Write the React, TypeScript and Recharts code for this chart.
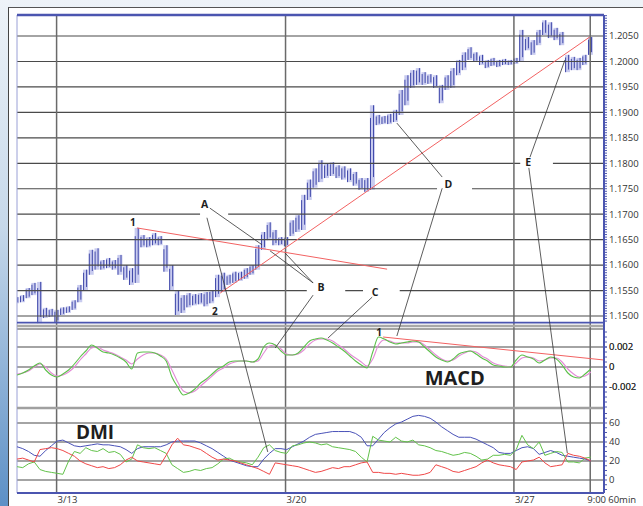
import React from "react";
import {
  ComposedChart,
  Bar,
  Line,
  XAxis,
  YAxis,
  ReferenceLine,
  ReferenceDot,
} from "recharts";

// 60-min bars, sampled every 3 bars
const HIGH = [
  1.1537, 1.1541, 1.1555, 1.1565, 1.1567, 1.1516, 1.1514, 1.1512, 1.1517, 1.1519,
  1.1531, 1.1561, 1.1591, 1.163, 1.1633, 1.161, 1.1614, 1.161, 1.162, 1.16,
  1.1594, 1.1673, 1.1659, 1.1655, 1.1663, 1.1657, 1.1639, 1.16, 1.1551, 1.1541,
  1.1545, 1.1543, 1.1545, 1.1547, 1.1551, 1.1581, 1.1585, 1.1581, 1.1587, 1.1587,
  1.1594, 1.16, 1.1639, 1.1665, 1.1684, 1.1669, 1.1655, 1.1655, 1.1688, 1.1698,
  1.1738, 1.1768, 1.179, 1.1806, 1.18, 1.1802, 1.1796, 1.1794, 1.179, 1.1783,
  1.1771, 1.1771, 1.1914, 1.1895, 1.1893, 1.1897, 1.1905, 1.1944, 1.1973, 1.1983,
  1.1987, 1.1979, 1.1975, 1.1973, 1.1954, 1.1973, 1.1987, 1.2003, 1.2018, 1.2028,
  1.2018, 1.2013, 1.2003, 1.2007, 1.2003, 1.2005, 1.2003, 1.2007, 1.2062, 1.2048,
  1.2042, 1.2062, 1.2081, 1.2077, 1.2066, 1.2058, 1.2013, 1.2009, 1.2007, 1.2013,
  1.2048,
];
const LOW = [
  1.1525, 1.1527, 1.1535, 1.1541, 1.1486, 1.1496, 1.1498, 1.1488, 1.1502, 1.1506,
  1.1512, 1.1527, 1.1551, 1.1581, 1.1591, 1.1591, 1.1594, 1.1591, 1.1581, 1.1571,
  1.1561, 1.1565, 1.1635, 1.1635, 1.1639, 1.1639, 1.1587, 1.1551, 1.1502, 1.1506,
  1.1517, 1.1521, 1.1523, 1.1519, 1.1525, 1.1537, 1.1547, 1.1561, 1.1565, 1.1569,
  1.1573, 1.1581, 1.1591, 1.163, 1.1649, 1.1639, 1.1639, 1.1637, 1.1657, 1.1665,
  1.1669, 1.1728, 1.1752, 1.1763, 1.1771, 1.1775, 1.1771, 1.1768, 1.1763, 1.1756,
  1.1748, 1.1744, 1.1748, 1.1875, 1.1877, 1.1877, 1.1881, 1.1895, 1.1914, 1.1948,
  1.1954, 1.1954, 1.1956, 1.1948, 1.1918, 1.1944, 1.1948, 1.1973, 1.1983, 1.2003,
  1.1999, 1.1993, 1.1987, 1.1991, 1.1989, 1.1993, 1.1993, 1.1995, 1.1999, 1.2022,
  1.2013, 1.2032, 1.2052, 1.2046, 1.2042, 1.2032, 1.1979, 1.1983, 1.1983, 1.1993,
  1.2013,
];
const MACD = [
  -0.0008, -0.0006, -0.0003, 0.0001, 0.0004, -0.0003, -0.0008, -0.001, -0.0007, -0.0003,
  0.0003, 0.001, 0.0016, 0.0022, 0.0019, 0.0015, 0.0014, 0.0012, 0.0009, 0.0005,
  -0.0002, 0.0014, 0.0015, 0.0015, 0.0014, 0.0011, 0.0006, -0.001, -0.002, -0.0028,
  -0.0026, -0.0022, -0.0016, -0.0012, -0.0007, -0.0002, 0.0001, 0.0005, 0.0006, 0.0006,
  0.0006, 0.0005, 0.0008, 0.002, 0.0024, 0.0022, 0.0016, 0.0012, 0.0012, 0.0014,
  0.002, 0.0026, 0.0028, 0.0029, 0.0027, 0.0024, 0.002, 0.0016, 0.0011, 0.0006,
  0.0002, -0.0001, 0.0015, 0.003, 0.0028, 0.0025, 0.0023, 0.0024, 0.0025, 0.0026,
  0.0025, 0.002, 0.0015, 0.001, 0.0007, 0.0005, 0.0008, 0.0013, 0.0015, 0.0016,
  0.0013, 0.0009, 0.0006, 0.0002, 0.0001, 0, 0, 0.0007, 0.0012, 0.001,
  0.0008, 0.0004, 0.0007, 0.001, 0.0008, 0.0002, -0.0006, -0.001, -0.0011, -0.0007,
  -0.0002,
];
const SIGNAL = [
  -0.0007, -0.0006, -0.0004, 0, 0.0003, 0, -0.0006, -0.0009, -0.0008, -0.0005,
  0, 0.0007, 0.0013, 0.0019, 0.002, 0.0017, 0.0015, 0.0013, 0.001, 0.0007,
  0.0003, 0.0008, 0.0012, 0.0014, 0.0014, 0.0012, 0.0008, -0.0003, -0.0015, -0.0024,
  -0.0026, -0.0024, -0.0019, -0.0014, -0.0009, -0.0004, -0.0001, 0.0003, 0.0005, 0.0006,
  0.0006, 0.0005, 0.0006, 0.0014, 0.0021, 0.0022, 0.0018, 0.0013, 0.0012, 0.0013,
  0.0017, 0.0023, 0.0027, 0.0028, 0.0028, 0.0026, 0.0022, 0.0018, 0.0013, 0.0009,
  0.0005, 0.0001, 0.0008, 0.0022, 0.0027, 0.0026, 0.0024, 0.0024, 0.0024, 0.0025,
  0.0025, 0.0022, 0.0017, 0.0012, 0.0008, 0.0006, 0.0007, 0.0011, 0.0014, 0.0016,
  0.0015, 0.0011, 0.0008, 0.0004, 0.0002, 0.0001, 0, 0.0004, 0.0009, 0.001,
  0.0009, 0.0006, 0.0007, 0.0009, 0.0009, 0.0005, -0.0002, -0.0007, -0.001, -0.0009,
  -0.0005,
];
const ADX = [
  35, 33, 30, 26, 25, 31, 36, 41, 42, 39,
  36, 35, 36, 37, 38, 37, 37, 36, 35, 32,
  28, 33, 35, 35, 35, 35, 37, 40, 41, 41,
  41, 41, 39, 36, 33, 29, 25, 21, 19, 17,
  15, 14, 14, 22, 28, 33, 33, 32, 35, 38,
  41, 45, 48, 49, 50, 51, 51, 51, 51, 49,
  45, 36, 36, 43, 50, 55, 59, 61, 64, 67,
  68, 67, 65, 61, 56, 52, 48, 45, 45, 45,
  43, 40, 37, 34, 29, 28, 28, 31, 34, 35,
  33, 27, 29, 31, 29, 26, 25, 24, 23, 22,
  20,
];
const PDI = [
  14, 13, 17, 19, 11, 9, 8, 7, 6, 20,
  30, 28, 34, 31, 30, 33, 29, 30, 27, 19,
  22, 37, 34, 33, 34, 31, 28, 16, 12, 8,
  9, 11, 10, 12, 13, 17, 22, 23, 20, 19,
  18, 16, 24, 34, 37, 31, 29, 28, 36, 37,
  39, 40, 39, 37, 38, 35, 34, 33, 32, 30,
  24, 19, 46, 42, 41, 40, 45, 41, 40, 42,
  37, 36, 34, 31, 30, 28, 26, 27, 29, 28,
  25, 21, 22, 26, 26, 27, 26, 32, 47, 37,
  33, 40, 26, 28, 30, 29, 19, 19, 18, 23,
  24,
];
const MDI = [
  22, 23, 21, 19, 32, 33, 34, 33, 31, 28,
  25, 20, 17, 15, 13, 14, 12, 13, 16, 21,
  24, 20, 19, 18, 17, 16, 26, 37, 44, 37,
  36, 34, 32, 28, 24, 21, 22, 21, 20, 18,
  16, 14, 12, 9, 6, 18, 17, 16, 15, 14,
  12, 10, 8, 9, 11, 13, 12, 14, 14, 16,
  18, 19, 8, 8, 7, 7, 6, 7, 6, 5,
  5, 6, 8, 16, 14, 12, 9, 8, 10, 12,
  14, 18, 21, 18, 16, 15, 14, 11, 19, 20,
  21, 24, 18, 14, 15, 16, 28, 26, 25, 23,
  20,
];

const X_TICKS = [6.9, 46.8, 86.6, 99.9];
const X_LABELS = ["3/13", "3/20", "3/27", "9:00"];
const PRICE_GRID = [1.15, 1.155, 1.16, 1.165, 1.17, 1.175, 1.18, 1.185, 1.19, 1.195, 1.2, 1.205];
const MACD_GRID = [0.0038, 0.002, 0, -0.002];
const MACD_LABELS = [0.002, 0, -0.002];
const DMI_GRID = [60, 40, 20, 0];

// the three panes share one plot; each axis domain places its pane
const X_DOMAIN: [number, number] = [0, 102.3];
const PRICE_DOMAIN: [number, number] = [1.11523, 1.20913];
const MACD_DOMAIN: [number, number] = [-0.0126, 0.0352];
const DMI_DOMAIN: [number, number] = [-13.7, 489.5];
const DOMAINS: Record<string, [number, number]> = {
  price: PRICE_DOMAIN,
  macd: MACD_DOMAIN,
  dmi: DMI_DOMAIN,
};
const toPrice = (v: number, pane: string) => {
  const [a, b] = DOMAINS[pane];
  return PRICE_DOMAIN[0] + ((v - a) / (b - a)) * (PRICE_DOMAIN[1] - PRICE_DOMAIN[0]);
};

// annotations
const TRENDS: [number, number, number, number, string][] = [
  [20.9, 1.1673, 64.5, 1.1592, "price"],
  [35.4, 1.1545, 99.8, 1.2048, "price"],
  [63.8, 0.003, 102.3, 0.0007, "macd"],
];
type P = [number, number, string];
const LEADERS: [P, P][] = [
  [[33.6, 1.1712, "price"], [42.7, 1.164, "price"]],
  [[33.1, 1.1693, "price"], [43.7, 29.5, "dmi"]],
  [[51.6, 1.1565, "price"], [44.1, 1.1628, "price"]],
  [[51.6, 1.1565, "price"], [46.7, 1.1624, "price"]],
  [[51.6, 1.1541, "price"], [45.0, 0.0019, "macd"]],
  [[61.9, 1.1537, "price"], [54.2, 0.0029, "macd"]],
  [[74.1, 1.1773, "price"], [66.2, 1.1879, "price"]],
  [[74.1, 1.1751, "price"], [66.2, 0.0031, "macd"]],
  [[89.4, 1.1812, "price"], [95.5, 1.2003, "price"]],
  [[89.2, 1.1791, "price"], [95.9, 28.4, "dmi"]],
];
const GAPS: [number, number, number][] = [
  [1.17, 31.9, 36.8],
  [1.155, 50.5, 57.2],
  [1.155, 60.3, 66.7],
  [1.175, 73.2, 79.3],
  [1.18, 87.7, 93.4],
];
const LABELS: { text: string; t: number; v: number; pane: string; size: number }[] = [
  { text: "A", t: 32.7, v: 1.1721, pane: "price", size: 10.5 },
  { text: "B", t: 53.0, v: 1.1557, pane: "price", size: 10.5 },
  { text: "C", t: 62.4, v: 1.1548, pane: "price", size: 10.5 },
  { text: "D", t: 75.2, v: 1.176, pane: "price", size: 10.5 },
  { text: "E", t: 89.1, v: 1.1802, pane: "price", size: 10.5 },
  { text: "1", t: 20.2, v: 1.1685, pane: "price", size: 10 },
  { text: "2", t: 34.5, v: 1.151, pane: "price", size: 10 },
  { text: "1", t: 63.1, v: 0.0035, pane: "macd", size: 10 },
  { text: "MACD", t: 76.3, v: -0.001, pane: "macd", size: 20 },
  { text: "DMI", t: 13.6, v: 50, pane: "dmi", size: 19 },
];

const FONT = "'Open Sans', sans-serif";
const AXIS_BLUE = "#4b55b0";
const GRID = "#4a4a4a";

// right axis: price ticks plus the MACD and DMI ticks mapped into price units
const RIGHT_TICKS: number[] = [];
const TICK_TEXT = new Map<number, string>();
for (let k = 2298; k <= 2418; k++) {
  const v = k / 2000;
  RIGHT_TICKS.push(v);
  if (k % 10 === 0 && k >= 2300 && k <= 2410) TICK_TEXT.set(v, v.toFixed(4));
}
for (let k = -8; k <= 7; k++) RIGHT_TICKS.push(toPrice(k * 0.0005, "macd"));
MACD_LABELS.forEach((m) => {
  const v = toPrice(m, "macd");
  RIGHT_TICKS.push(v);
  TICK_TEXT.set(v, m === 0 ? "0" : m.toFixed(3));
});
for (let k = -2; k <= 14; k++) {
  const v = toPrice(k * 5, "dmi");
  RIGHT_TICKS.push(v);
  if (k % 4 === 0 && k >= 0 && k <= 12) TICK_TEXT.set(v, String(k * 5));
}
const LEFT_TICKS = RIGHT_TICKS.filter((v) => v >= 1.1488);

const PriceBar = (props: any) => {
  const { x, y, width, height } = props;
  if (x == null || height == null) return null;
  const top = Math.min(y, y + height);
  const h = Math.abs(height);
  return (
    <g>
      <rect x={x} y={top} width={width} height={h} fill="#c8cbef" />
      <line x1={x + 0.6} x2={x + 0.6} y1={top + h * 0.15} y2={top + h} stroke="#4049aa" strokeWidth={1} />
      <line x1={x + width - 1.4} x2={x + width - 1.4} y1={top} y2={top + h * 0.85} stroke="#4049aa" strokeWidth={1} />
    </g>
  );
};

const XTick = (props: any) => {
  const { x, y, payload } = props;
  const label = X_LABELS[X_TICKS.indexOf(payload.value)];
  const last = label === "9:00";
  return (
    <g fontFamily={FONT} fontSize={9.5} fill="#333">
      <text x={last ? x - 3 : x + 1} y={y + 10} textAnchor="start">
        {label}
      </text>
      {last && (
        <text x={x + 18} y={y + 10} textAnchor="start">
          60min
        </text>
      )}
    </g>
  );
};

export default function App() {
  const data = HIGH.map((hi, i) => ({
    t: i,
    hi,
    lo: LOW[i],
    macd: MACD[i],
    signal: SIGNAL[i],
    adx: ADX[i],
    pdi: PDI[i],
    mdi: MDI[i],
  }));

  return (
    <div
      style={{
        position: "absolute",
        left: 0,
        top: 0,
        width: 643,
        height: 506,
        background: "linear-gradient(180deg, #eef3f8 0%, #c6d8ea 45%, #5d90c6 100%)",
        overflow: "hidden",
      }}
    >
      <div
        style={{
          position: "absolute",
          left: 8,
          top: 7,
          width: 635,
          height: 499,
          background: "#fff",
          borderLeft: "1px solid #444",
          borderTop: "1px solid #555",
        }}
      />
      <div style={{ position: "absolute", left: 0, top: 0 }}>
        <ComposedChart
          width={643}
          height={506}
          data={data}
          margin={{ top: 15, right: 0, bottom: 0, left: 17 }}
        >
          <XAxis
            dataKey="t"
            type="number"
            domain={X_DOMAIN}
            allowDataOverflow
            ticks={X_TICKS}
            interval={0}
            tick={<XTick />}
            tickLine={false}
            tickSize={0}
            tickMargin={0}
            height={13}
            axisLine={{ stroke: AXIS_BLUE, strokeWidth: 2 }}
          />
          <YAxis
            yAxisId="price"
            orientation="right"
            type="number"
            domain={PRICE_DOMAIN}
            allowDataOverflow
            ticks={RIGHT_TICKS}
            interval={0}
            tickFormatter={(v: number) => TICK_TEXT.get(v) ?? ""}
            width={39}
            tickSize={3}
            tickMargin={2}
            axisLine={{ stroke: AXIS_BLUE, strokeWidth: 2 }}
            tickLine={{ stroke: AXIS_BLUE }}
            tick={{ fontSize: 9.5, fill: "#333", fontFamily: FONT }}
          />
          <YAxis
            yAxisId="left"
            orientation="left"
            type="number"
            domain={PRICE_DOMAIN}
            allowDataOverflow
            ticks={LEFT_TICKS}
            interval={0}
            tickFormatter={() => ""}
            width={0}
            mirror
            tickSize={3}
            axisLine={false}
            tickLine={{ stroke: "#7c84cc" }}
          />
          <YAxis yAxisId="macd" hide type="number" domain={MACD_DOMAIN} allowDataOverflow />
          <YAxis yAxisId="dmi" hide type="number" domain={DMI_DOMAIN} allowDataOverflow />

          {PRICE_GRID.map((v) => (
            <ReferenceLine key={"pg" + v} yAxisId="price" y={v} stroke={GRID} strokeWidth={1.2} />
          ))}
          {MACD_GRID.map((v) => (
            <ReferenceLine key={"mg" + v} yAxisId="macd" y={v} stroke={GRID} strokeWidth={1.2} />
          ))}
          {DMI_GRID.map((v) => (
            <ReferenceLine key={"dg" + v} yAxisId="dmi" y={v} stroke={GRID} strokeWidth={1.2} />
          ))}
          {X_TICKS.map((t) => (
            <ReferenceLine key={"xv" + t} yAxisId="price" x={t} stroke="#6a6a6a" strokeWidth={1.5} />
          ))}
          <ReferenceLine yAxisId="price" x={0} stroke="#9aa0d6" strokeWidth={1} />
          {GAPS.map(([v, a, b], i) => (
            <ReferenceLine
              key={"gap" + i}
              yAxisId="price"
              segment={[{ x: a, y: v }, { x: b, y: v }]}
              stroke="#fff"
              strokeWidth={3}
            />
          ))}
          {/* pane borders */}
          <ReferenceLine yAxisId="price" y={PRICE_DOMAIN[1]} stroke={AXIS_BLUE} strokeWidth={2.5} />
          <ReferenceLine yAxisId="price" y={1.14869} stroke={AXIS_BLUE} strokeWidth={1.8} />
          <ReferenceLine yAxisId="macd" y={0.0041} stroke="#a8a8a8" strokeWidth={2.5} />
          <ReferenceLine yAxisId="macd" y={-0.0041} stroke="#a0a0a0" strokeWidth={2.5} />

          <Bar
            yAxisId="price"
            dataKey={(d: any) => [d.lo, d.hi]}
            barSize={5}
            shape={<PriceBar />}
            isAnimationActive={false}
          />
          <Line yAxisId="macd" dataKey="signal" type="monotone" stroke="#e38ad6" strokeWidth={1.1} dot={false} isAnimationActive={false} />
          <Line yAxisId="macd" dataKey="macd" type="monotone" stroke="#5cc04a" strokeWidth={1.1} dot={false} isAnimationActive={false} />
          <Line yAxisId="dmi" dataKey="adx" type="linear" stroke="#4a52b8" strokeWidth={1} dot={false} isAnimationActive={false} />
          <Line yAxisId="dmi" dataKey="pdi" type="linear" stroke="#62c24a" strokeWidth={1} dot={false} isAnimationActive={false} />
          <Line yAxisId="dmi" dataKey="mdi" type="linear" stroke="#f04848" strokeWidth={1} dot={false} isAnimationActive={false} />

          {TRENDS.map(([t1, v1, t2, v2, pane], i) => (
            <ReferenceLine
              key={"tr" + i}
              yAxisId={pane}
              segment={[{ x: t1, y: v1 }, { x: t2, y: v2 }]}
              stroke="#f26262"
              strokeWidth={1}
              ifOverflow="visible"
            />
          ))}
          {LEADERS.map(([a, b], i) => (
            <ReferenceLine
              key={"ld" + i}
              yAxisId="price"
              segment={[
                { x: a[0], y: toPrice(a[1], a[2]) },
                { x: b[0], y: toPrice(b[1], b[2]) },
              ]}
              stroke="#333"
              strokeWidth={0.8}
              ifOverflow="visible"
            />
          ))}
          {LABELS.map((l, i) => (
            <ReferenceDot
              key={"lb" + i}
              yAxisId={l.pane}
              x={l.t}
              y={l.v}
              r={0}
              ifOverflow="visible"
              shape={(p: any) => (
                <text
                  x={p.cx}
                  y={p.cy}
                  textAnchor="middle"
                  dominantBaseline="central"
                  fontFamily={FONT}
                  fontWeight={700}
                  fontSize={l.size}
                  fill="#1e1e1e"
                >
                  {l.text}
                </text>
              )}
            />
          ))}
        </ComposedChart>
      </div>
    </div>
  );
}
